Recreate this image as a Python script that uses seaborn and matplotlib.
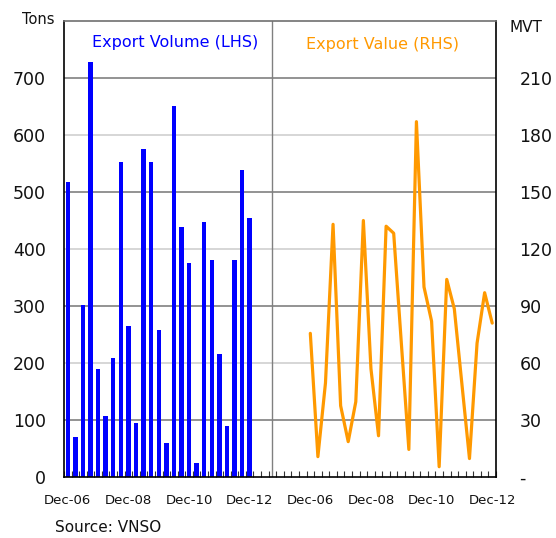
import matplotlib
matplotlib.use("Agg")
import matplotlib.pyplot as plt
import seaborn as sns
import numpy as np
import pandas as pd

# ---- data (quarterly, Dec-06 .. Dec-12) ----
export_volume_tons = [518, 70, 301, 728, 190, 107, 209, 553, 265, 94, 575, 553, 258,
                      60, 651, 439, 375, 25, 447, 380, 216, 89, 380, 539, 454]
export_value_mvt = [75.6, 10.7, 49.5, 133, 37.5, 18.6, 39.6, 135, 57, 21.7, 132, 128.3,
                    71, 14.5, 187, 100, 82, 5.4, 104, 88.5, 49, 9.7, 70.4, 97, 81]
period_labels = ["Dec-06", "Dec-08", "Dec-10", "Dec-12"]
left_ticks = [0, 100, 200, 300, 400, 500, 600, 700]
right_ticks = [0, 30, 60, 90, 120, 150, 180, 210]

n = len(export_volume_tons)
gap = 7
vol_pos = np.arange(n)
val_pos = np.arange(n) + n + gap
total = 2 * n + gap

df_vol = pd.DataFrame({"pos": vol_pos, "volume": export_volume_tons})
df_val = pd.DataFrame({"pos": val_pos, "value": export_value_mvt})

sns.set_style("white")
plt.rcParams["font.family"] = ["DejaVu Sans"]

fig = plt.figure(figsize=(5.56, 5.38), dpi=100)
ax = fig.add_axes([64 / 556, 1 - 477 / 538, (496 - 64) / 556, (477 - 21) / 538])

# gridlines (alternating shades)
for i, t in enumerate(left_ticks[1:]):
    ax.axhline(t, color="#808080" if i % 2 == 0 else "#cfcfcf", lw=1.2, zorder=0)

sns.barplot(data=df_vol, x="pos", y="volume", native_scale=True, color="#0000FF",
            saturation=1, width=0.58, linewidth=0, ax=ax, zorder=2)

ax.set_xlim(-0.5, total - 0.5)
ax.set_ylim(0, 800)
ax.set_yticks(left_ticks)
ax.set_yticklabels([str(t) for t in left_ticks], fontsize=12.5, color="#111111")
ax.tick_params(axis="y", length=0, pad=13)

# separator between panels
ax.axvline(n + 2, color="#808080", lw=1.0, zorder=1)

# x ticks
major = list(vol_pos[::8]) + list(val_pos[::8])
ax.set_xticks(major)
ax.set_xticklabels(period_labels * 2, fontsize=9.5, color="#111111")
ax.set_xticks(np.arange(total + 1) - 0.5, minor=True)
ax.tick_params(axis="x", which="major", length=0, pad=12)
ax.tick_params(axis="x", which="minor", direction="in", length=4, width=0.8,
               color="#333333", bottom=True)
ax.set_xlabel("")
ax.set_ylabel("")

for side in ["left", "bottom", "right"]:
    ax.spines[side].set_color("black")
    ax.spines[side].set_linewidth(1.2)
ax.spines["top"].set_color("#707070")
ax.spines["top"].set_linewidth(1.2)

ax2 = ax.twinx()
sns.lineplot(data=df_val, x="pos", y="value", color="#FF9900", lw=2.3, ax=ax2)
ax2.set_ylim(0, 240)
ax2.set_yticks(right_ticks)
ax2.set_yticklabels(["-"] + [str(t) for t in right_ticks[1:]], fontsize=12.5, color="#111111")
ax2.tick_params(axis="y", length=0, pad=17)
ax2.set_ylabel("")
ax2.set_xlim(-0.5, total - 0.5)
for s in ax2.spines.values():
    s.set_visible(False)

fig.text(38 / 556, 1 - 20 / 538, "Tons", fontsize=10.5, ha="center", va="center", color="#111111")
fig.text(526 / 556, 1 - 28 / 538, "MVT", fontsize=11, ha="center", va="center", color="#111111")
fig.text(175 / 556, 1 - 43 / 538, "Export Volume (LHS)", fontsize=11.5, ha="center",
         va="center", color="#0000FF")
fig.text(383 / 556, 1 - 45 / 538, "Export Value (RHS)", fontsize=11.5, ha="center",
         va="center", color="#FF9900")
fig.text(55 / 556, 1 - 527 / 538, "Source: VNSO", fontsize=11, ha="left", va="center",
         color="#111111")

fig.savefig("out.png", dpi=100)
